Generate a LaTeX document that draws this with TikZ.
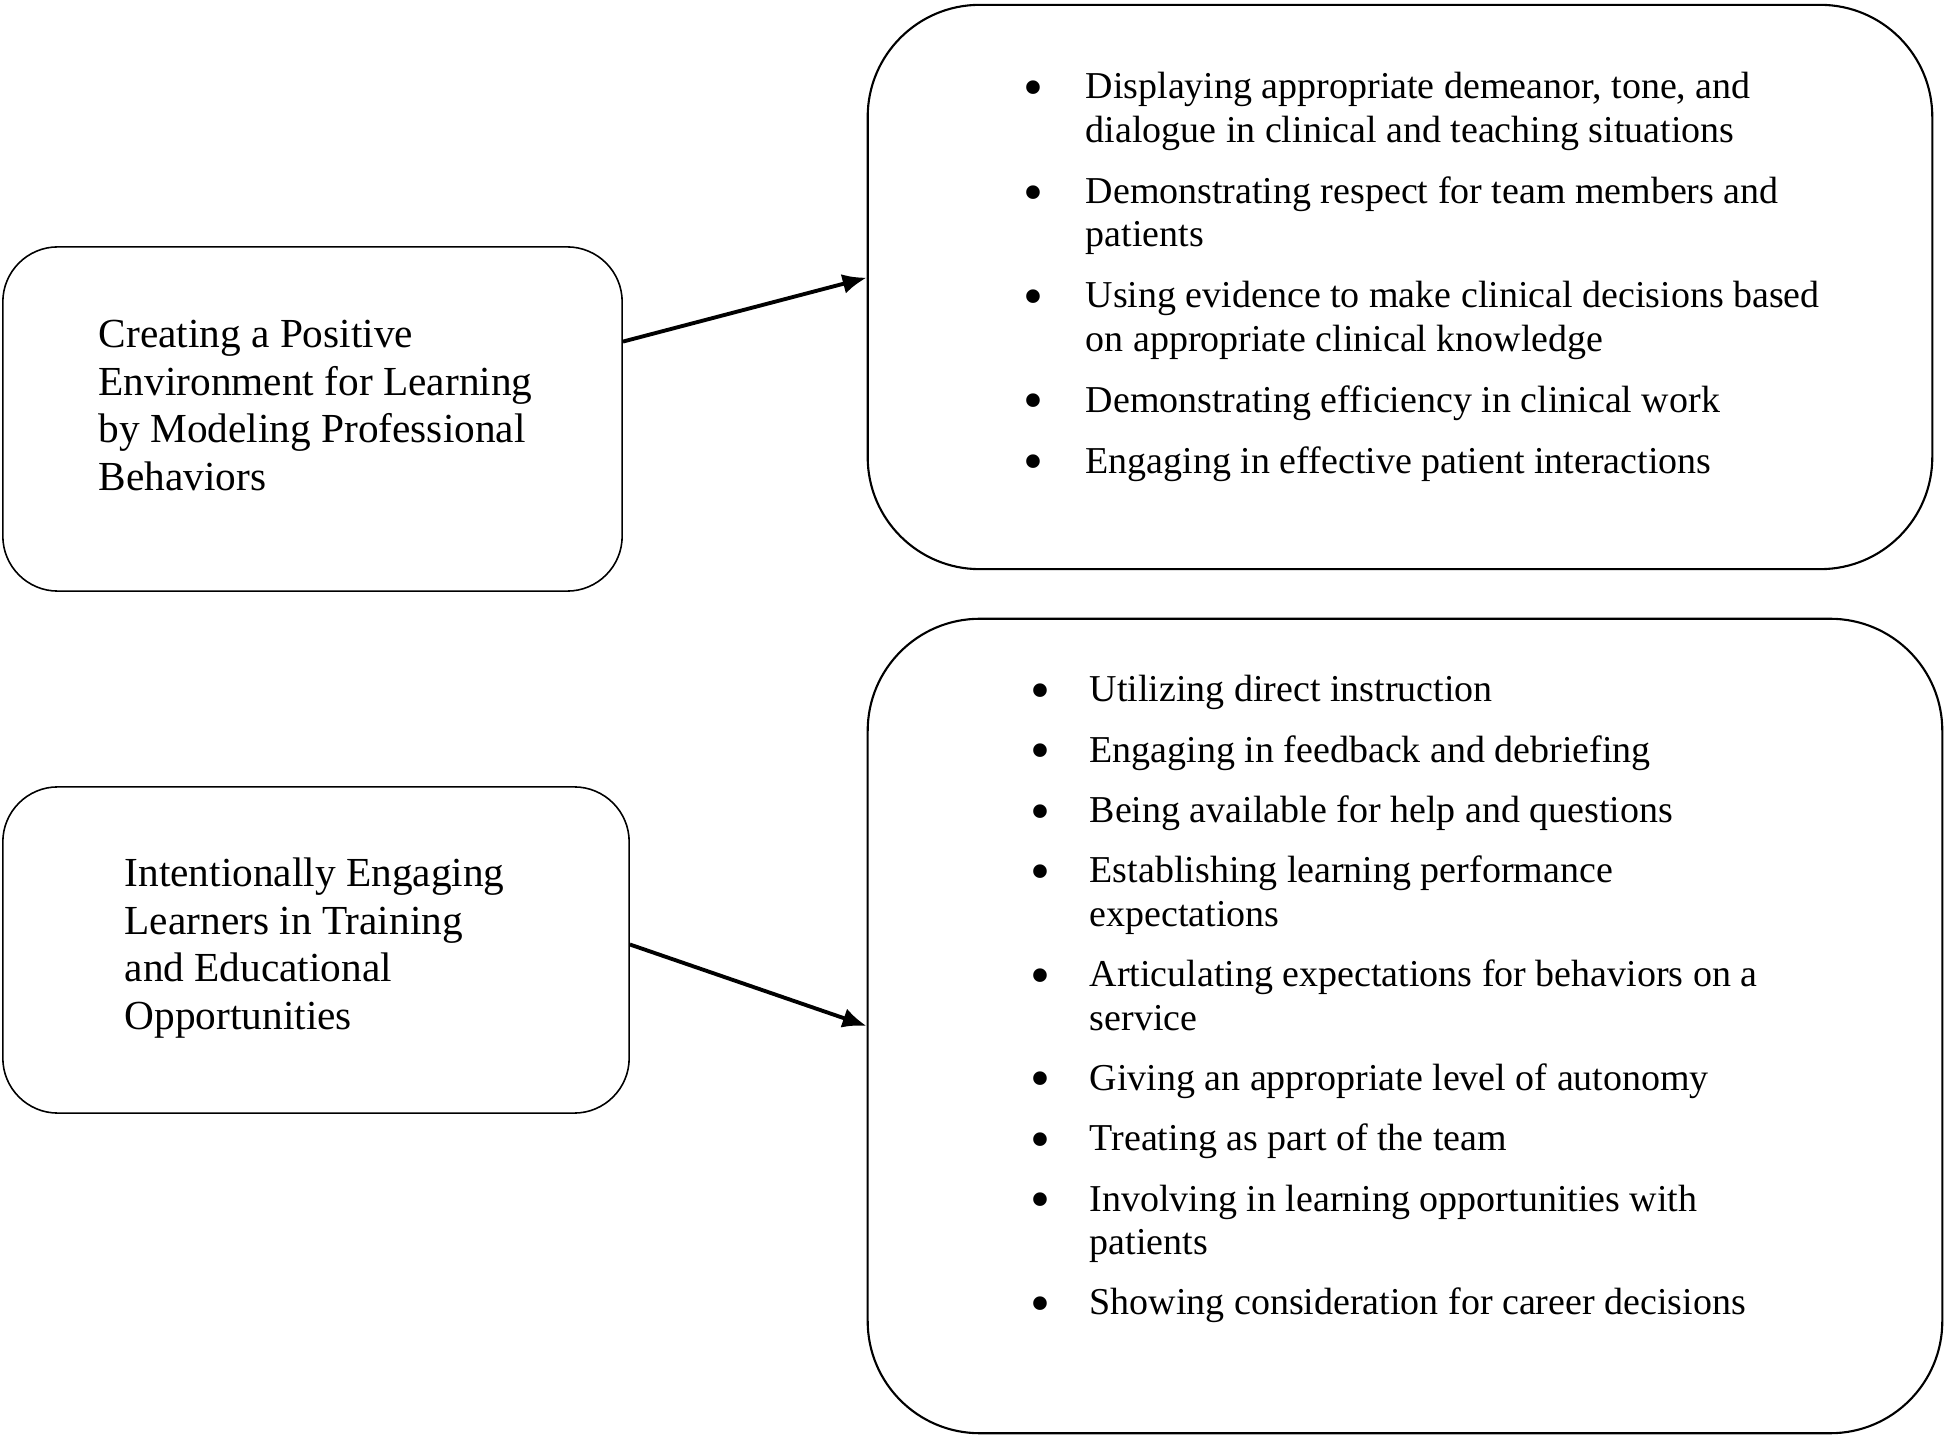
\documentclass[tikz,border=0pt]{standalone}
\usepackage{fontspec}
\setmainfont{Liberation Serif}
\usetikzlibrary{arrows.meta}
\newcommand{\sidefont}{\fontsize{11.75}{13.47}\selectfont}
\newcommand{\listfont}{\fontsize{10.8}{12.35}\selectfont}
\newcommand{\dotmark}{\raisebox{-0.2em}{\scalebox{1.5}{\textbullet}}}
\begin{document}
\begin{tikzpicture}[x=0.01cm, y=-0.01cm]
	\tikzstyle{sidebox}=[rectangle, draw=black, line width=0.45pt, rounded corners=0.55cm, inner sep=0pt]
	\tikzstyle{listbox}=[rectangle, draw=black, line width=0.6pt, rounded corners=1.12cm, inner sep=0pt]
	\tikzstyle{sidetext}=[anchor=base west, inner sep=0pt, font=\sidefont]
	\tikzstyle{listtext}=[anchor=base west, inner sep=0pt, font=\listfont]
	\tikzstyle{link}=[-{Latex[length=0.24cm, width=0.2cm]}, line width=1.1pt]
	\useasboundingbox (0, 0) rectangle (1950, 1449);

	% boxes
	\draw node[sidebox, minimum width=6.19cm, minimum height=3.44cm] at (312.5, 419) (model) {};
	\draw node[listbox, minimum width=10.64cm, minimum height=5.64cm] at (1400, 287) (modelitems) {};
	\draw node[sidebox, minimum width=6.26cm, minimum height=3.26cm] at (316, 950) (engage) {};
	\draw node[listbox, minimum width=10.74cm, minimum height=8.14cm] at (1405, 1026) (engageitems) {};

	% texts
	\draw node[sidetext] at (98, 348) (modeltext) {\begin{tabular}[t]{@{}l@{}}
		Creating a Positive\\
		Environment for Learning\\
		by Modeling Professional\\
		Behaviors
	\end{tabular}};
	\draw node[sidetext] at (124, 887) (engagetext) {\begin{tabular}[t]{@{}l@{}}
		Intentionally Engaging\\
		Learners in Training\\
		and Educational\\
		Opportunities
	\end{tabular}};
	\draw node[listtext] at (1023, 99) (modellist) {\begin{tabular}[t]{@{}p{0.62cm}@{}l@{}}
		\dotmark & Displaying appropriate demeanor, tone, and\\
		 & dialogue in clinical and teaching situations\\[5pt]
		\dotmark & Demonstrating respect for team members and\\
		 & patients\\[5pt]
		\dotmark & Using evidence to make clinical decisions based\\
		 & on appropriate clinical knowledge\\[5pt]
		\dotmark & Demonstrating efficiency in clinical work\\[5pt]
		\dotmark & Engaging in effective patient interactions
	\end{tabular}};
	\draw node[listtext] at (1030, 702) (engagelist) {\begin{tabular}[t]{@{}p{0.59cm}@{}l@{}}
		\dotmark & Utilizing direct instruction\\[4.8pt]
		\dotmark & Engaging in feedback and debriefing\\[4.8pt]
		\dotmark & Being available for help and questions\\[4.8pt]
		\dotmark & Establishing learning performance\\
		 & expectations\\[4.8pt]
		\dotmark & Articulating expectations for behaviors on a\\
		 & service\\[4.8pt]
		\dotmark & Giving an appropriate level of autonomy\\[4.8pt]
		\dotmark & Treating as part of the team\\[4.8pt]
		\dotmark & Involving in learning opportunities with\\
		 & patients\\[4.8pt]
		\dotmark & Showing consideration for career decisions
	\end{tabular}};

	% arrows
	\draw [link] (model.14) -- (modelitems.179.5);
	\draw [link] (engage.1.3) -- (engageitems.180.3);
\end{tikzpicture}
\end{document}
